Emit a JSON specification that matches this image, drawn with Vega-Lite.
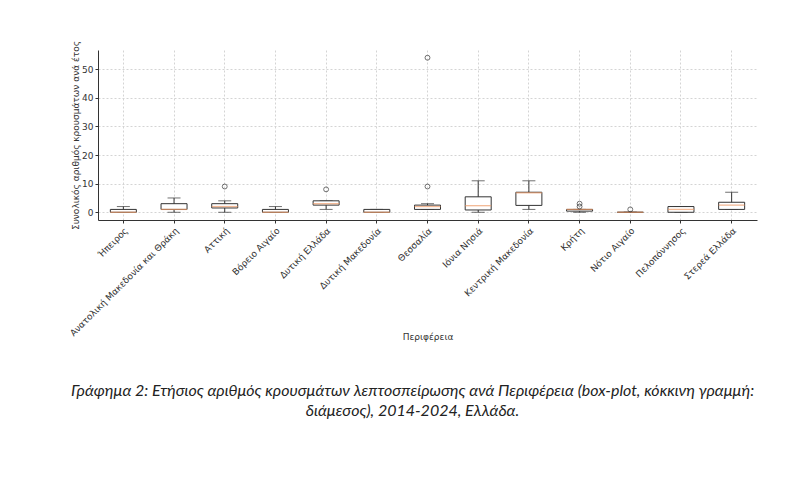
{
  "$schema": "https://vega.github.io/schema/vega-lite/v6.json",
  "autosize": {"type": "none"},
  "width": 659,
  "height": 170,
  "padding": {"left": 98, "top": 50, "right": 43, "bottom": 266},
  "background": "white",
  "datasets": {
    "stats": [
      {"region": "Ήπειρος", "lower": 0, "q1": 0, "median": 0, "q3": 1, "upper": 2},
      {"region": "Ανατολική Μακεδονία και Θράκη", "lower": 0, "q1": 1, "median": 1, "q3": 3, "upper": 5},
      {"region": "Αττική", "lower": 0, "q1": 1.5, "median": 2, "q3": 3, "upper": 4},
      {"region": "Βόρειο Αιγαίο", "lower": 0, "q1": 0, "median": 0, "q3": 1, "upper": 2},
      {"region": "Δυτική Ελλάδα", "lower": 1, "q1": 2.5, "median": 3, "q3": 4, "upper": 4},
      {"region": "Δυτική Μακεδονία", "lower": 0, "q1": 0, "median": 0, "q3": 1, "upper": 1},
      {"region": "Θεσσαλία", "lower": 1, "q1": 1, "median": 2, "q3": 2.5, "upper": 3},
      {"region": "Ιόνια Νησιά", "lower": 0, "q1": 0.8, "median": 2.3, "q3": 5.4, "upper": 11},
      {"region": "Κεντρική Μακεδονία", "lower": 1, "q1": 2.4, "median": 6.8, "q3": 7, "upper": 11},
      {"region": "Κρήτη", "lower": 0, "q1": 0.4, "median": 1, "q3": 1, "upper": 1},
      {"region": "Νότιο Αιγαίο", "lower": 0, "q1": 0, "median": 0, "q3": 0, "upper": 0},
      {"region": "Πελοπόννησος", "lower": 0, "q1": 0, "median": 1, "q3": 2, "upper": 2},
      {"region": "Στερεά Ελλάδα", "lower": 1, "q1": 1, "median": 2.5, "q3": 3.5, "upper": 7}
    ],
    "outliers": [
      {"region": "Αττική", "value": 9},
      {"region": "Δυτική Ελλάδα", "value": 8},
      {"region": "Θεσσαλία", "value": 9},
      {"region": "Θεσσαλία", "value": 54},
      {"region": "Κρήτη", "value": 2},
      {"region": "Κρήτη", "value": 3},
      {"region": "Νότιο Αιγαίο", "value": 1}
    ]
  },
  "title": {
    "text": ["Γράφημα 2: Ετήσιος αριθμός κρουσμάτων λεπτοσπείρωσης ανά Περιφέρεια (box-plot, κόκκινη γραμμή:", "διάμεσος), 2014-2024, Ελλάδα."],
    "orient": "bottom",
    "anchor": "middle",
    "frame": "group",
    "dx": -15,
    "offset": 42,
    "baseline": "top",
    "font": "Lato",
    "fontSize": 16,
    "fontStyle": "italic",
    "fontWeight": "normal",
    "color": "#222222",
    "lineHeight": 20
  },
  "encoding": {
    "x": {
      "field": "region",
      "type": "nominal",
      "sort": ["Ήπειρος", "Ανατολική Μακεδονία και Θράκη", "Αττική", "Βόρειο Αιγαίο", "Δυτική Ελλάδα", "Δυτική Μακεδονία", "Θεσσαλία", "Ιόνια Νησιά", "Κεντρική Μακεδονία", "Κρήτη", "Νότιο Αιγαίο", "Πελοπόννησος", "Στερεά Ελλάδα"],
      "scale": {"paddingInner": 0, "paddingOuter": 0},
      "axis": {
        "title": "Περιφέρεια",
        "labelAngle": -45,
        "labelFontSize": 9,
        "labelColor": "#333333",
        "labelFont": "DejaVu Sans",
        "titleFont": "DejaVu Sans",
        "titleFontSize": 9,
        "titleFontWeight": "normal",
        "titleColor": "#333333",
        "titleY": 116,
        "titleBaseline": "middle",
        "domainColor": "#333333",
        "tickColor": "#333333",
        "tickSize": 3,
        "grid": true,
        "gridColor": "#d4d4d4",
        "gridDash": [2, 2],
        "labelPadding": 3
      }
    }
  },
  "layer": [
    {
      "data": {"name": "stats"},
      "mark": {"type": "rule", "color": "#333333", "strokeWidth": 1},
      "encoding": {
        "y": {"field": "lower", "type": "quantitative", "scale": {"domain": [-2.7, 56.7], "nice": false, "zero": false}, "axis": {"title": "Συνολικός αριθμός κρουσμάτων ανά έτος", "values": [0, 10, 20, 30, 40, 50]}},
        "y2": {"field": "upper"}
      }
    },
    {
      "data": {"name": "stats"},
      "mark": {"type": "tick", "color": "#333333", "size": 13, "thickness": 1},
      "encoding": {"y": {"field": "upper", "type": "quantitative", "axis": {"title": "Συνολικός αριθμός κρουσμάτων ανά έτος", "values": [0, 10, 20, 30, 40, 50]}}}
    },
    {
      "data": {"name": "stats"},
      "mark": {"type": "tick", "color": "#333333", "size": 13, "thickness": 1},
      "encoding": {"y": {"field": "lower", "type": "quantitative", "axis": {"title": "Συνολικός αριθμός κρουσμάτων ανά έτος", "values": [0, 10, 20, 30, 40, 50]}}}
    },
    {
      "data": {"name": "stats"},
      "mark": {"type": "bar", "width": 26, "fill": "white", "stroke": "#333333", "strokeWidth": 1},
      "encoding": {
        "y": {"field": "q1", "type": "quantitative", "axis": {"title": "Συνολικός αριθμός κρουσμάτων ανά έτος", "values": [0, 10, 20, 30, 40, 50]}},
        "y2": {"field": "q3"}
      }
    },
    {
      "data": {"name": "stats"},
      "mark": {"type": "tick", "color": "#ee9a66", "size": 26, "thickness": 1.3},
      "encoding": {"y": {"field": "median", "type": "quantitative", "axis": {"title": "Συνολικός αριθμός κρουσμάτων ανά έτος", "values": [0, 10, 20, 30, 40, 50]}}}
    },
    {
      "data": {"name": "outliers"},
      "mark": {"type": "point", "shape": "circle", "filled": false, "color": "#333333", "size": 24, "strokeWidth": 1},
      "encoding": {"y": {"field": "value", "type": "quantitative", "axis": {"title": "Συνολικός αριθμός κρουσμάτων ανά έτος", "values": [0, 10, 20, 30, 40, 50]}}}
    }
  ],
  "config": {
    "view": {"stroke": null},
    "axisY": {
      "labelOverlap": false,
      "tickCount": 6,
      "labelFontSize": 9,
      "labelColor": "#333333",
      "labelFont": "DejaVu Sans",
      "titleFont": "DejaVu Sans",
      "titleFontSize": 9,
      "titleFontWeight": "normal",
      "titleColor": "#333333",
      "titleX": -23,
      "titleBaseline": "middle",
      "domainColor": "#333333",
      "tickColor": "#333333",
      "tickSize": 3,
      "grid": true,
      "gridColor": "#d4d4d4",
      "gridDash": [2, 2]
    }
  }
}
